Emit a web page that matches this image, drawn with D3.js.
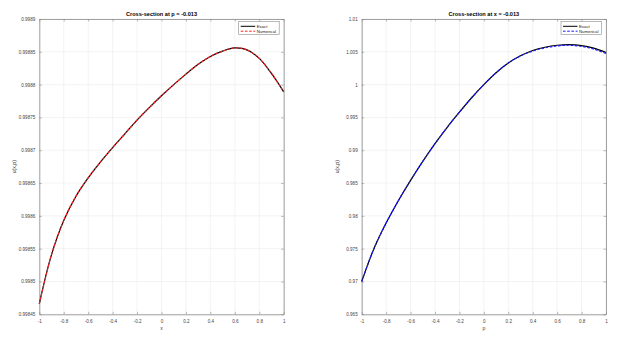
<!DOCTYPE html>
<html>
<head>
<meta charset="utf-8">
<script src="https://cdn.jsdelivr.net/npm/d3@7"></script>
<style>
  body { margin: 0; background: #fff; }
  svg { display: block; }
  svg text { font-family: "Liberation Sans", Arial, sans-serif; }
  .tick text { fill: #444; }
</style>
</head>
<body>
<div id="chart"></div>
<script>
// Grid of sample points (shared by both cross-sections)
const samplePoints = [-1, -0.9, -0.8, -0.7, -0.6, -0.5, -0.4, -0.3, -0.2, -0.1, 0,
  0.1, 0.2, 0.3, 0.4, 0.5, 0.6, 0.7, 0.8, 0.9, 1];

// Cross-section at p = -0.013 (u vs x)
const exactX = [0.998466, 0.998541, 0.998593, 0.998630, 0.998658, 0.998682, 0.998704, 0.998725,
  0.998746, 0.998765, 0.998783, 0.998800, 0.998816, 0.998831, 0.998843, 0.998851, 0.998856,
  0.998853, 0.998840, 0.998817, 0.998789];
const numericalX = [0.998466, 0.998541, 0.998593, 0.998630, 0.998658, 0.998682, 0.998704, 0.998725,
  0.998746, 0.998765, 0.998783, 0.998800, 0.998816, 0.998831, 0.998843, 0.998851, 0.998856,
  0.998853, 0.998840, 0.998817, 0.998789];

// Cross-section at x = -0.013 (u vs p)
const exactP = [0.9700, 0.9750, 0.9789, 0.9823, 0.9854, 0.9883, 0.9910, 0.9935, 0.9958, 0.9980, 1.0000,
  1.0018, 1.0033, 1.0044, 1.0052, 1.0057, 1.00600, 1.00610, 1.00595, 1.00555, 1.00490];
const numericalP = [0.9700, 0.9750, 0.9789, 0.9823, 0.9854, 0.9883, 0.9910, 0.9935, 0.9958, 0.9980, 1.0000,
  1.0018, 1.0033, 1.00437, 1.00512, 1.0056, 1.00590, 1.00600, 1.00583, 1.00541, 1.00475];

// Tick labels
const xTickLabels = ["-1", "-0.8", "-0.6", "-0.4", "-0.2", "0", "0.2", "0.4", "0.6", "0.8", "1"];
const yTickLabelsLeft = ["0.99845", "0.9985", "0.99855", "0.9986", "0.99865", "0.9987",
  "0.99875", "0.9988", "0.99885", "0.9989"];
const yTickLabelsRight = ["0.965", "0.97", "0.975", "0.98", "0.985", "0.99", "0.995",
  "1", "1.005", "1.01"];

const width = 626, height = 346;

const svg = d3.select("#chart").append("svg")
  .attr("width", width)
  .attr("height", height);

function drawPanel(cfg) {
  const x = d3.scaleLinear().domain([-1, 1]).range([cfg.left, cfg.right]);
  const yVals = cfg.yLabels.map(Number);
  const y = d3.scaleLinear().domain(d3.extent(yVals)).range([cfg.bottom, cfg.top]);
  const xVals = xTickLabels.map(Number);

  const g = svg.append("g");

  // Grid lines
  g.selectAll(".gx").data(xVals).enter().append("line")
    .attr("x1", d => x(d)).attr("x2", d => x(d))
    .attr("y1", cfg.top).attr("y2", cfg.bottom)
    .attr("stroke", "#ebebeb").attr("stroke-width", 0.6);
  g.selectAll(".gy").data(yVals).enter().append("line")
    .attr("y1", d => y(d)).attr("y2", d => y(d))
    .attr("x1", cfg.left).attr("x2", cfg.right)
    .attr("stroke", "#ebebeb").attr("stroke-width", 0.6);

  // Axes (ticks drawn inward, MATLAB style)
  const xAxis = d3.axisBottom(x).tickValues(xVals)
    .tickFormat((d, i) => xTickLabels[i]).tickSizeInner(-2.5).tickSizeOuter(0).tickPadding(5);
  const yAxis = d3.axisLeft(y).tickValues(yVals)
    .tickFormat((d, i) => cfg.yLabels[i]).tickSizeInner(-2.5).tickSizeOuter(0).tickPadding(4);

  const xg = g.append("g").attr("transform", `translate(0,${cfg.bottom})`).call(xAxis);
  const yg = g.append("g").attr("transform", `translate(${cfg.left},0)`).call(yAxis);
  g.append("g").attr("transform", `translate(0,${cfg.top})`)
    .call(d3.axisTop(x).tickValues(xVals).tickFormat("").tickSizeInner(-2.5).tickSizeOuter(0));
  g.append("g").attr("transform", `translate(${cfg.right},0)`)
    .call(d3.axisRight(y).tickValues(yVals).tickFormat("").tickSizeInner(-2.5).tickSizeOuter(0));

  g.selectAll(".domain").attr("stroke", "#8a8a8a").attr("stroke-width", 0.8);
  g.selectAll(".tick line").attr("stroke", "#8a8a8a").attr("stroke-width", 0.6);
  xg.selectAll("text").style("font-size", "4.6px");
  yg.selectAll("text").style("font-size", "4.6px");

  // Curves
  const line = d3.line()
    .x((d, i) => x(samplePoints[i]))
    .y(d => y(d))
    .curve(d3.curveCatmullRom);

  g.append("path").datum(cfg.exact)
    .attr("d", line).attr("fill", "none")
    .attr("stroke", "#000").attr("stroke-width", 1.2);
  g.append("path").datum(cfg.numerical)
    .attr("d", line).attr("fill", "none")
    .attr("stroke", cfg.numColor).attr("stroke-width", 1.2)
    .attr("stroke-dasharray", "2.6,1.6");

  // Title and axis labels
  const cx = (cfg.left + cfg.right) / 2;
  g.append("text").attr("x", cx).attr("y", 16)
    .attr("text-anchor", "middle").style("font-size", "5.6px").style("font-weight", "bold")
    .text(cfg.title);
  g.append("text").attr("x", cx).attr("y", 330)
    .attr("text-anchor", "middle").style("font-size", "5.2px").attr("fill", "#444")
    .text(cfg.xLabel);
  g.append("text")
    .attr("transform", `translate(${cfg.left - 23},${(cfg.top + cfg.bottom) / 2}) rotate(-90)`)
    .attr("text-anchor", "middle").style("font-size", "5.2px").attr("fill", "#444")
    .text("u(x,p)");

  // Legend
  const lx = cfg.right - 45, ly = 21.5;
  const legend = g.append("g");
  legend.append("rect").attr("x", lx).attr("y", ly).attr("width", 40.5).attr("height", 13)
    .attr("fill", "#fff").attr("stroke", "#8a8a8a").attr("stroke-width", 0.6);
  const items = [
    { label: "Exact", color: "#000", dash: null },
    { label: "Numerical", color: cfg.numColor, dash: "2.6,1.6" }
  ];
  items.forEach((it, i) => {
    const yy = ly + 4.8 + i * 4.9;
    legend.append("line")
      .attr("x1", lx + 2).attr("x2", lx + 16.5).attr("y1", yy).attr("y2", yy)
      .attr("stroke", it.color).attr("stroke-width", 1)
      .attr("stroke-dasharray", it.dash);
    legend.append("text").attr("x", lx + 18).attr("y", yy + 1.5)
      .style("font-size", "4.3px").attr("fill", "#222").text(it.label);
  });
}

drawPanel({
  left: 39.3, right: 283.7, top: 19, bottom: 314.3,
  yLabels: yTickLabelsLeft,
  exact: exactX, numerical: numericalX, numColor: "#ff2020",
  title: "Cross-section at p = -0.013", xLabel: "x"
});

drawPanel({
  left: 361.7, right: 606, top: 19, bottom: 314.3,
  yLabels: yTickLabelsRight,
  exact: exactP, numerical: numericalP, numColor: "#1a1aff",
  title: "Cross-section at x = -0.013", xLabel: "p"
});
</script>
</body>
</html>
